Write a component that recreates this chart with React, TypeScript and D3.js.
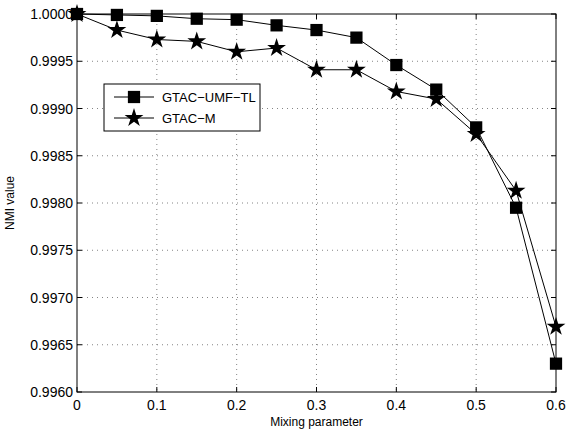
import React, { useEffect, useRef } from 'react'
import * as d3 from 'd3'

const mixing = [0, 0.05, 0.1, 0.15, 0.2, 0.25, 0.3, 0.35, 0.4, 0.45, 0.5, 0.55, 0.6]
const umfTL = [1.0, 0.99999, 0.99998, 0.99995, 0.99994, 0.99988, 0.99983, 0.99975, 0.99946, 0.9992, 0.9988, 0.99795, 0.9963]
const gtacM = [1.0, 0.99983, 0.99973, 0.99971, 0.9996, 0.99964, 0.99941, 0.99941, 0.99918, 0.9991, 0.99873, 0.99813, 0.99669]
const xTicks = [0, 0.1, 0.2, 0.3, 0.4, 0.5, 0.6]
const yTicks = [0.996, 0.9965, 0.997, 0.9975, 0.998, 0.9985, 0.999, 0.9995, 1.0]
const seriesNames = ['GTAC\u2212UMF\u2212TL', 'GTAC\u2212M']

const width = 568
const height = 432

export default function App() {
  const svgRef = useRef<SVGSVGElement>(null)

  useEffect(() => {
    if (!svgRef.current) return
    const svg = d3.select(svgRef.current)
    svg.selectAll('*').remove()

    const margin = { top: 14, right: 12, bottom: 40, left: 77 }
    const pw = width - margin.left - margin.right
    const ph = height - margin.top - margin.bottom
    const font = 'Liberation Sans, Arial, Helvetica, sans-serif'

    const x = d3.scaleLinear().domain([0, 0.6]).range([0, pw])
    const y = d3.scaleLinear().domain([0.996, 1.0]).range([ph, 0])

    svg.append('rect').attr('width', width).attr('height', height).attr('fill', 'white')

    const g = svg.append('g').attr('transform', `translate(${margin.left},${margin.top})`)

    // dotted grid
    g.selectAll('.vgrid')
      .data(xTicks.slice(1, -1))
      .enter()
      .append('line')
      .attr('x1', d => x(d)).attr('x2', d => x(d))
      .attr('y1', 0).attr('y2', ph)
      .attr('stroke', '#666').attr('stroke-width', 0.8)
      .attr('stroke-dasharray', '1,4')
    g.selectAll('.hgrid')
      .data(yTicks.slice(1, -1))
      .enter()
      .append('line')
      .attr('x1', 0).attr('x2', pw)
      .attr('y1', d => y(d)).attr('y2', d => y(d))
      .attr('stroke', '#666').attr('stroke-width', 0.8)
      .attr('stroke-dasharray', '1,4')

    // frame
    g.append('rect')
      .attr('width', pw).attr('height', ph)
      .attr('fill', 'none').attr('stroke', 'black').attr('stroke-width', 1)

    // ticks inward on all sides
    const tl = 5
    xTicks.forEach(t => {
      g.append('line').attr('x1', x(t)).attr('x2', x(t)).attr('y1', ph).attr('y2', ph - tl).attr('stroke', 'black')
      g.append('line').attr('x1', x(t)).attr('x2', x(t)).attr('y1', 0).attr('y2', tl).attr('stroke', 'black')
      g.append('text')
        .attr('x', x(t)).attr('y', ph + 18)
        .attr('text-anchor', 'middle')
        .attr('font-family', font).attr('font-size', 14)
        .text(d3.format('')(t))
    })
    yTicks.forEach(t => {
      g.append('line').attr('x1', 0).attr('x2', tl).attr('y1', y(t)).attr('y2', y(t)).attr('stroke', 'black')
      g.append('line').attr('x1', pw).attr('x2', pw - tl).attr('y1', y(t)).attr('y2', y(t)).attr('stroke', 'black')
      g.append('text')
        .attr('x', -4).attr('y', y(t) + 5)
        .attr('text-anchor', 'end')
        .attr('font-family', font).attr('font-size', 14)
        .text(t.toFixed(4))
    })

    // axis labels
    svg.append('text')
      .attr('x', margin.left + pw / 2).attr('y', height - 6)
      .attr('text-anchor', 'middle')
      .attr('font-family', font).attr('font-size', 12)
      .text('Mixing parameter')
    svg.append('text')
      .attr('transform', `translate(14,${margin.top + ph / 2}) rotate(-90)`)
      .attr('text-anchor', 'middle')
      .attr('font-family', font).attr('font-size', 12)
      .text('NMI value')

    const line = d3.line<number>()
      .x((_, i) => x(mixing[i]))
      .y(d => y(d))

    const star = d3.symbol().type(d3.symbolStar).size(110)
    const square = d3.symbol().type(d3.symbolSquare).size(150)

    const drawSeries = (vals: number[], sym: any) => {
      g.append('path').attr('d', line(vals)).attr('fill', 'none').attr('stroke', 'black').attr('stroke-width', 1)
      g.selectAll(null)
        .data(vals)
        .enter()
        .append('path')
        .attr('d', sym())
        .attr('transform', (d, i) => `translate(${x(mixing[i])},${y(d)})`)
        .attr('fill', 'black')
    }
    drawSeries(umfTL, square)
    drawSeries(gtacM, star)

    // legend
    const lg = svg.append('g').attr('transform', 'translate(104,84)')
    lg.append('rect').attr('width', 156).attr('height', 47)
      .attr('fill', 'white').attr('stroke', 'black').attr('stroke-width', 1)
    const syms = [square, star]
    seriesNames.forEach((name, i) => {
      const cy = 13 + i * 21
      lg.append('line').attr('x1', 10).attr('x2', 50).attr('y1', cy).attr('y2', cy).attr('stroke', 'black')
      lg.append('path').attr('d', syms[i]()).attr('transform', `translate(30,${cy})`).attr('fill', 'black')
      lg.append('text')
        .attr('x', 58).attr('y', cy + 5)
        .attr('font-family', font).attr('font-size', 13)
        .text(name)
    })
  }, [])

  return (
    <svg
      ref={svgRef}
      width={width}
      height={height}
      style={{ display: 'block', position: 'fixed', left: 0, top: 0 }}
    />
  )
}
